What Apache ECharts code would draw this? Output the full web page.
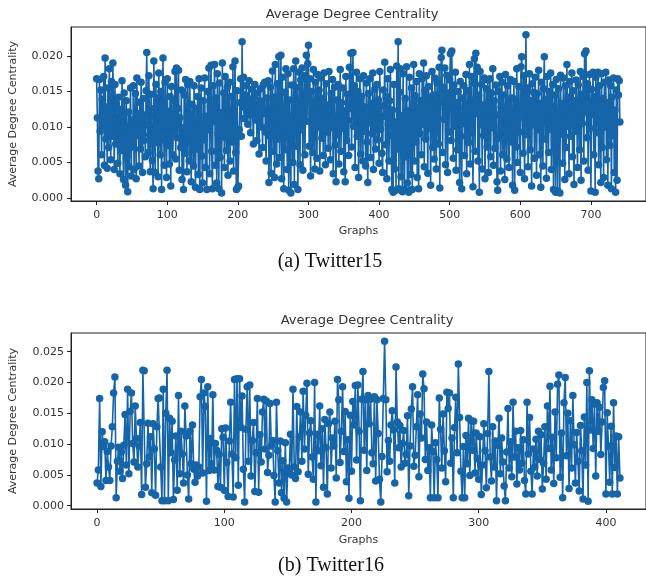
<!DOCTYPE html>
<html>
<head>
<meta charset="utf-8">
<script src="https://cdn.jsdelivr.net/npm/echarts@6/dist/echarts.min.js"></script>
<style>
html,body{margin:0;padding:0;background:#fff;}
#chart{width:646px;height:579px;}
</style>
</head>
<body>
<div id="chart"></div>
<script>
// ---------- DATA ----------
const chartTitle = "Average Degree Centrality";
const xAxisName = "Graphs";
const yAxisName = "Average Degree Centrality";
const captionA = "(a) Twitter15";
const captionB = "(b) Twitter16";

const xTicksA = [0, 100, 200, 300, 400, 500, 600, 700];
const yTicksA = [0.000, 0.005, 0.010, 0.015, 0.020];
const xTicksB = [0, 100, 200, 300, 400];
const yTicksB = [0.000, 0.005, 0.010, 0.015, 0.020, 0.025];

const twitter15 = [
0.0168,0.0113,0.0038,0.0027,0.0167,0.0094,0.0152,0.0061,0.0139,0.0102,0.0171,0.0046,0.0197,0.0083,0.0128,0.0042,0.0155,0.0071,0.0182,0.0109,
0.0054,0.0164,0.0087,0.0190,0.0118,0.0040,0.0160,0.0076,0.0133,0.0098,0.0049,0.0142,0.0112,0.0034,0.0125,0.0067,0.0165,0.0091,0.0026,0.0148,
0.0102,0.0018,0.0137,0.0058,0.0009,0.0121,0.0044,0.0096,0.0155,0.0031,0.0110,0.0072,0.0158,0.0040,0.0104,0.0147,0.0027,0.0169,0.0088,0.0119,
0.0045,0.0135,0.0069,0.0163,0.0097,0.0036,0.0140,0.0081,0.0117,0.0058,0.0151,0.0205,0.0103,0.0064,0.0172,0.0089,0.0037,0.0146,0.0116,0.0053,
0.0013,0.0193,0.0126,0.0036,0.0160,0.0078,0.0141,0.0030,0.0176,0.0099,0.0061,0.0150,0.0012,0.0134,0.0197,0.0082,0.0046,0.0163,0.0107,0.0029,
0.0168,0.0074,0.0122,0.0048,0.0143,0.0017,0.0157,0.0093,0.0061,0.0138,0.0101,0.0178,0.0055,0.0183,0.0085,0.0126,0.0180,0.0039,0.0113,0.0071,
0.0152,0.0026,0.0099,0.0012,0.0145,0.0063,0.0167,0.0091,0.0037,0.0160,0.0118,0.0052,0.0164,0.0079,0.0023,0.0132,0.0104,0.0045,0.0158,0.0087,
0.0015,0.0126,0.0069,0.0143,0.0033,0.0168,0.0012,0.0101,0.0155,0.0059,0.0021,0.0137,0.0082,0.0169,0.0043,0.0115,0.0012,0.0150,0.0096,0.0183,
0.0034,0.0129,0.0187,0.0066,0.0013,0.0158,0.0108,0.0188,0.0046,0.0141,0.0021,0.0175,0.0090,0.0013,0.0162,0.0057,0.0120,0.0007,0.0190,0.0086,
0.0148,0.0043,0.0171,0.0111,0.0067,0.0156,0.0032,0.0124,0.0163,0.0052,0.0097,0.0143,0.0079,0.0185,0.0038,0.0120,0.0193,0.0064,0.0012,0.0151,
0.0015,0.0017,0.0096,0.0134,0.0168,0.0087,0.0220,0.0128,0.0170,0.0112,0.0145,0.0131,0.0158,0.0121,0.0104,0.0139,0.0165,0.0117,0.0092,0.0135,
0.0153,0.0125,0.0076,0.0143,0.0160,0.0110,0.0131,0.0081,0.0148,0.0121,0.0062,0.0137,0.0154,0.0100,0.0128,0.0071,0.0159,0.0119,0.0163,0.0093,
0.0052,0.0141,0.0101,0.0165,0.0022,0.0087,0.0156,0.0035,0.0127,0.0179,0.0066,0.0142,0.0029,0.0188,0.0104,0.0048,0.0161,0.0083,0.0199,0.0057,
0.0131,0.0201,0.0027,0.0170,0.0094,0.0013,0.0149,0.0068,0.0182,0.0116,0.0040,0.0175,0.0011,0.0138,0.0086,0.0007,0.0159,0.0106,0.0050,0.0182,
0.0019,0.0134,0.0193,0.0073,0.0156,0.0012,0.0112,0.0177,0.0047,0.0166,0.0096,0.0183,0.0039,0.0127,0.0172,0.0061,0.0145,0.0201,0.0108,0.0189,
0.0215,0.0073,0.0168,0.0031,0.0150,0.0119,0.0064,0.0181,0.0095,0.0041,0.0163,0.0127,0.0056,0.0174,0.0100,0.0152,0.0038,0.0121,0.0169,0.0084,
0.0140,0.0060,0.0176,0.0112,0.0047,0.0161,0.0093,0.0131,0.0070,0.0178,0.0124,0.0054,0.0147,0.0099,0.0167,0.0034,0.0115,0.0156,0.0075,0.0023,
0.0138,0.0089,0.0160,0.0048,0.0117,0.0181,0.0066,0.0134,0.0098,0.0155,0.0037,0.0123,0.0023,0.0171,0.0081,0.0146,0.0109,0.0060,0.0184,0.0126,
0.0204,0.0072,0.0139,0.0205,0.0101,0.0158,0.0043,0.0118,0.0177,0.0087,0.0150,0.0029,0.0135,0.0168,0.0062,0.0143,0.0110,0.0052,0.0172,0.0094,
0.0128,0.0045,0.0162,0.0079,0.0022,0.0147,0.0106,0.0168,0.0057,0.0133,0.0091,0.0176,0.0040,0.0121,0.0153,0.0069,0.0113,0.0160,0.0082,0.0138,
0.0049,0.0178,0.0097,0.0130,0.0063,0.0036,0.0152,0.0115,0.0191,0.0075,0.0143,0.0027,0.0168,0.0104,0.0052,0.0137,0.0181,0.0088,0.0012,0.0124,
0.0008,0.0160,0.0041,0.0107,0.0011,0.0186,0.0069,0.0220,0.0013,0.0149,0.0182,0.0030,0.0116,0.0009,0.0175,0.0085,0.0012,0.0140,0.0058,0.0185,
0.0021,0.0123,0.0008,0.0170,0.0099,0.0033,0.0155,0.0012,0.0113,0.0188,0.0052,0.0144,0.0079,0.0164,0.0029,0.0128,0.0013,0.0175,0.0091,0.0137,
0.0061,0.0168,0.0104,0.0190,0.0044,0.0151,0.0083,0.0172,0.0119,0.0035,0.0157,0.0098,0.0142,0.0018,0.0130,0.0178,0.0071,0.0145,0.0055,0.0169,
0.0108,0.0041,0.0162,0.0127,0.0076,0.0184,0.0014,0.0135,0.0198,0.0208,0.0064,0.0156,0.0111,0.0183,0.0047,0.0120,0.0173,0.0036,0.0148,0.0093,
0.0166,0.0203,0.0081,0.0207,0.0125,0.0056,0.0159,0.0101,0.0177,0.0039,0.0134,0.0068,0.0150,0.0112,0.0022,0.0164,0.0087,0.0013,0.0141,0.0105,
0.0158,0.0060,0.0127,0.0174,0.0034,0.0115,0.0151,0.0078,0.0188,0.0048,0.0138,0.0171,0.0092,0.0016,0.0162,0.0196,0.0066,0.0204,0.0119,0.0184,
0.0052,0.0145,0.0008,0.0178,0.0103,0.0160,0.0041,0.0131,0.0088,0.0169,0.0027,0.0114,0.0154,0.0072,0.0166,0.0036,0.0124,0.0168,0.0058,0.0148,
0.0099,0.0182,0.0046,0.0137,0.0070,0.0159,0.0117,0.0023,0.0011,0.0150,0.0084,0.0171,0.0038,0.0128,0.0163,0.0061,0.0145,0.0095,0.0026,0.0174,
0.0109,0.0055,0.0158,0.0132,0.0043,0.0118,0.0167,0.0079,0.0141,0.0018,0.0102,0.0164,0.0011,0.0139,0.0072,0.0182,0.0050,0.0125,0.0157,0.0093,
0.0036,0.0185,0.0199,0.0114,0.0063,0.0172,0.0027,0.0148,0.0230,0.0089,0.0155,0.0044,0.0120,0.0175,0.0068,0.0137,0.0017,0.0161,0.0103,0.0149,
0.0056,0.0170,0.0124,0.0032,0.0147,0.0096,0.0180,0.0061,0.0133,0.0015,0.0163,0.0110,0.0045,0.0154,0.0199,0.0083,0.0139,0.0028,0.0171,0.0118,
0.0064,0.0150,0.0097,0.0176,0.0040,0.0128,0.0160,0.0012,0.0107,0.0145,0.0008,0.0167,0.0083,0.0010,0.0154,0.0122,0.0007,0.0173,0.0090,0.0133,
0.0049,0.0169,0.0115,0.0026,0.0158,0.0071,0.0188,0.0101,0.0142,0.0034,0.0164,0.0087,0.0125,0.0176,0.0058,0.0151,0.0019,0.0137,0.0094,0.0166,
0.0112,0.0043,0.0159,0.0130,0.0068,0.0178,0.0025,0.0146,0.0105,0.0171,0.0052,0.0203,0.0120,0.0207,0.0085,0.0161,0.0039,0.0136,0.0174,0.0098,
0.0010,0.0153,0.0118,0.0177,0.0061,0.0143,0.0008,0.0170,0.0092,0.0131,0.0177,0.0047,0.0158,0.0109,0.0022,0.0175,0.0071,0.0140,0.0029,0.0163,
0.0100,0.0177,0.0054,0.0134,0.0018,0.0166,0.0119,0.0074,0.0158,0.0013,0.0142,0.0088,0.0169,0.0036,0.0124,0.0008,0.0152,0.0025,0.0168,0.0145,
0.0165,0.0107
];

const twitter16 = [
0.0037,0.0058,0.0174,0.0031,0.0120,0.0096,0.0104,0.0041,0.0088,0.0063,0.0041,0.0097,0.0128,0.0183,0.0209,0.0013,0.0072,0.0095,0.0056,0.0087,
0.0044,0.0098,0.0148,0.0066,0.0189,0.0052,0.0153,0.0183,0.0101,0.0071,0.0162,0.0109,0.0063,0.0097,0.0135,0.0018,0.0220,0.0219,0.0030,0.0068,
0.0134,0.0079,0.0112,0.0021,0.0133,0.0092,0.0017,0.0128,0.0174,0.0175,0.0063,0.0008,0.0189,0.0008,0.0150,0.0220,0.0008,0.0142,0.0086,0.0137,
0.0010,0.0074,0.0113,0.0025,0.0179,0.0052,0.0121,0.0084,0.0037,0.0162,0.0113,0.0050,0.0011,0.0121,0.0068,0.0131,0.0059,0.0038,0.0066,0.0048,
0.0063,0.0177,0.0205,0.0053,0.0183,0.0161,0.0007,0.0193,0.0057,0.0109,0.0068,0.0180,0.0058,0.0101,0.0090,0.0031,0.0083,0.0030,0.0125,0.0111,
0.0025,0.0126,0.0070,0.0015,0.0105,0.0168,0.0084,0.0014,0.0205,0.0078,0.0206,0.0033,0.0206,0.0127,0.0178,0.0059,0.0006,0.0124,0.0193,0.0072,
0.0196,0.0048,0.0106,0.0135,0.0023,0.0086,0.0174,0.0022,0.0115,0.0071,0.0152,0.0173,0.0092,0.0170,0.0054,0.0082,0.0166,0.0097,0.0106,0.0049,
0.0006,0.0168,0.0089,0.0037,0.0105,0.0021,0.0073,0.0012,0.0102,0.0006,0.0061,0.0054,0.0116,0.0050,0.0189,0.0063,0.0044,0.0161,0.0055,0.0112,
0.0152,0.0072,0.0186,0.0092,0.0147,0.0199,0.0051,0.0118,0.0138,0.0079,0.0043,0.0200,0.0006,0.0116,0.0089,0.0162,0.0065,0.0125,0.0030,0.0140,
0.0094,0.0019,0.0133,0.0152,0.0061,0.0110,0.0097,0.0137,0.0045,0.0205,0.0172,0.0070,0.0121,0.0193,0.0088,0.0153,0.0039,0.0107,0.0012,0.0147,
0.0056,0.0169,0.0131,0.0195,0.0074,0.0196,0.0121,0.0008,0.0173,0.0218,0.0090,0.0172,0.0057,0.0179,0.0133,0.0173,0.0086,0.0068,0.0177,0.0040,
0.0172,0.0117,0.0043,0.0006,0.0080,0.0174,0.0267,0.0172,0.0055,0.0106,0.0072,0.0131,0.0154,0.0123,0.0037,0.0225,0.0136,0.0094,0.0130,0.0063,
0.0101,0.0122,0.0069,0.0083,0.0146,0.0016,0.0097,0.0157,0.0193,0.0064,0.0082,0.0128,0.0180,0.0047,0.0149,0.0110,0.0214,0.0190,0.0075,0.0136,
0.0057,0.0094,0.0013,0.0131,0.0088,0.0013,0.0102,0.0075,0.0013,0.0175,0.0124,0.0061,0.0149,0.0089,0.0039,0.0184,0.0158,0.0183,0.0069,0.0110,
0.0013,0.0127,0.0176,0.0086,0.0230,0.0143,0.0056,0.0013,0.0096,0.0013,0.0114,0.0068,0.0142,0.0049,0.0138,0.0090,0.0137,0.0053,0.0118,0.0076,
0.0043,0.0112,0.0018,0.0066,0.0133,0.0089,0.0029,0.0117,0.0218,0.0079,0.0040,0.0128,0.0063,0.0105,0.0008,0.0098,0.0142,0.0052,0.0110,0.0071,
0.0032,0.0008,0.0087,0.0158,0.0061,0.0104,0.0047,0.0168,0.0079,0.0121,0.0035,0.0094,0.0058,0.0122,0.0069,0.0107,0.0041,0.0019,0.0168,0.0084,
0.0143,0.0056,0.0019,0.0092,0.0063,0.0108,0.0048,0.0121,0.0075,0.0115,0.0027,0.0069,0.0128,0.0043,0.0162,0.0093,0.0194,0.0058,0.0111,0.0036,
0.0152,0.0078,0.0197,0.0212,0.0046,0.0118,0.0013,0.0167,0.0208,0.0081,0.0150,0.0028,0.0138,0.0061,0.0179,0.0099,0.0037,0.0119,0.0072,0.0024,
0.0130,0.0089,0.0011,0.0144,0.0066,0.0200,0.0007,0.0219,0.0123,0.0172,0.0093,0.0165,0.0048,0.0167,0.0121,0.0160,0.0083,0.0136,0.0192,0.0203,
0.0019,0.0151,0.0097,0.0038,0.0129,0.0019,0.0167,0.0062,0.0113,0.0019,0.0112,0.0045
];

// ---------- CHART ----------
const FONT = "DejaVu Sans";
const LINE_COLOR = "#1565a8";
const TEXT_COLOR = "#333";

function pairs(arr) { return arr.map((v, i) => [i, v]); }

function xAxisCfg(gridIndex, min, max, ticks, gap, margin) {
  return {
    gridIndex, type: "value", min, max,
    name: xAxisName, nameLocation: "middle", nameGap: gap,
    nameTextStyle: { fontFamily: FONT, fontSize: 11, color: TEXT_COLOR },
    axisLine: { show: true, onZero: false, lineStyle: { color: "#222", width: 1 } },
    axisTick: { show: true, length: 4, inside: false, customValues: ticks, lineStyle: { color: "#222" } },
    axisLabel: { show: true, margin, customValues: ticks, fontFamily: FONT, fontSize: 11, color: TEXT_COLOR,
      formatter: v => String(Math.round(v)) },
    splitLine: { show: false }
  };
}
function yAxisCfg(gridIndex, min, max, ticks, margin) {
  return {
    gridIndex, type: "value", min, max,
    name: yAxisName, nameLocation: "middle", nameGap: 52, nameRotate: 90,
    nameTextStyle: { fontFamily: FONT, fontSize: 11, color: TEXT_COLOR },
    axisLine: { show: true, onZero: false, lineStyle: { color: "#222", width: 1 } },
    axisTick: { show: true, length: 4, inside: false, customValues: ticks, lineStyle: { color: "#222" } },
    axisLabel: { show: true, margin, customValues: ticks, fontFamily: FONT, fontSize: 11, color: TEXT_COLOR,
      formatter: v => v.toFixed(3) },
    splitLine: { show: false }
  };
}
function seriesCfg(idx, data) {
  return {
    type: "line", xAxisIndex: idx, yAxisIndex: idx,
    data: pairs(data),
    symbol: "circle", symbolSize: 7.5, showSymbol: true,
    itemStyle: { color: LINE_COLOR },
    lineStyle: { color: LINE_COLOR, width: 1.6 },
    animation: false, silent: true
  };
}

const chart = echarts.init(document.getElementById("chart"), null, { renderer: "canvas" });
chart.setOption({
  backgroundColor: "#fff",
  animation: false,
  grid: [
    { left: 69, top: 27, width: 583, height: 174, show: true, borderColor: "#222", borderWidth: 1, containLabel: false },
    { left: 68, top: 333, width: 584, height: 176, show: true, borderColor: "#222", borderWidth: 1, containLabel: false }
  ],
  xAxis: [
    xAxisCfg(0, -36.3, 778, xTicksA, 25, 9),
    xAxisCfg(1, -20.5, 431.5, xTicksB, 26, 9)
  ],
  yAxis: [
    yAxisCfg(0, -0.00042, 0.02408, yTicksA, 8),
    yAxisCfg(1, -0.00054, 0.02804, yTicksB, 7)
  ],
  series: [seriesCfg(0, twitter15), seriesCfg(1, twitter16)],
  graphic: [
    { type: "text", x: 352, y: 15, style: { text: chartTitle, fontFamily: FONT, fontSize: 13, fill: TEXT_COLOR, textAlign: "center", textVerticalAlign: "middle" } },
    { type: "text", x: 367, y: 321, style: { text: chartTitle, fontFamily: FONT, fontSize: 13, fill: TEXT_COLOR, textAlign: "center", textVerticalAlign: "middle" } },
    { type: "text", x: 330, y: 262, style: { text: captionA, fontFamily: "Liberation Serif", fontSize: 20, fill: "#111", textAlign: "center", textVerticalAlign: "middle" } },
    { type: "text", x: 331, y: 566, style: { text: captionB, fontFamily: "Liberation Serif", fontSize: 20, fill: "#111", textAlign: "center", textVerticalAlign: "middle" } }
  ]
});
</script>
</body>
</html>
